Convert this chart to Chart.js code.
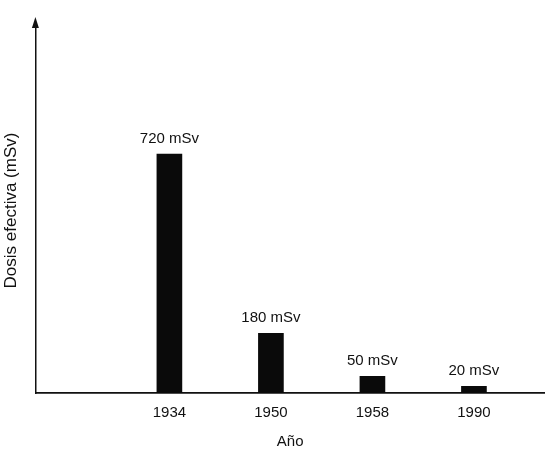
<!DOCTYPE html>
<html>
<head>
<meta charset="utf-8">
<script src="https://cdn.jsdelivr.net/npm/chart.js@4"></script>
<style>
  html, body { margin: 0; padding: 0; background: #fff; }
  #wrap { width: 545px; height: 452px; }
</style>
</head>
<body>
<div id="wrap"><canvas id="doseChart"></canvas></div>
<script>
const years = ['1934', '1950', '1958', '1990'];
const doses = [720, 180, 50, 20];
const unit = 'mSv';

const ink = '#111';
const font = 'Liberation Sans, Arial, Helvetica, sans-serif';

// labels "720 mSv" above each bar
const valueLabels = {
  id: 'valueLabels',
  afterDatasetsDraw(chart) {
    const { ctx } = chart;
    const meta = chart.getDatasetMeta(0);
    ctx.save();
    ctx.fillStyle = ink;
    ctx.font = `15px ${font}`;
    ctx.textAlign = 'center';
    ctx.textBaseline = 'alphabetic';
    meta.data.forEach((bar, i) => {
      ctx.fillText(`${doses[i]} ${unit}`, bar.x, bar.y - 11);
    });
    ctx.restore();
  }
};

// arrow head on top of the y axis
const axisArrow = {
  id: 'axisArrow',
  afterDraw(chart) {
    const { ctx, chartArea } = chart;
    const x = chartArea.left;
    const top = chartArea.top;
    ctx.save();
    ctx.strokeStyle = ink;
    ctx.fillStyle = ink;
    ctx.lineWidth = 1.5;
    ctx.beginPath();
    ctx.moveTo(x, top);
    ctx.lineTo(x, top - 4);
    ctx.stroke();
    ctx.beginPath();
    ctx.moveTo(x, top - 11);
    ctx.lineTo(x - 3.5, top);
    ctx.lineTo(x + 3.5, top);
    ctx.closePath();
    ctx.fill();
    ctx.restore();
  }
};

new Chart(document.getElementById('doseChart'), {
  type: 'bar',
  data: {
    datasets: [{
      data: doses.map((v, i) => ({ x: i, y: v })),
      backgroundColor: '#0a0a0a',
      barThickness: 25
    }]
  },
  options: {
    responsive: true,
    maintainAspectRatio: false,
    animation: false,
    layout: { padding: { top: 28, right: 0, left: 1, bottom: 1 } },
    plugins: {
      legend: { display: false },
      tooltip: { enabled: false }
    },
    scales: {
      x: {
        type: 'linear',
        offset: false,
        min: -1.32,
        max: 3.7,
        grid: { display: false },
        border: { display: true, color: ink, width: 1.8 },
        ticks: {
          stepSize: 1,
          includeBounds: false,
          color: ink,
          font: { family: font, size: 15 },
          padding: 3,
          callback: v => years[v] ?? ''
        },
        title: {
          display: true,
          text: 'Año',
          color: ink,
          font: { family: font, size: 15 },
          padding: { top: 8, bottom: 0 }
        }
      },
      y: {
        min: 0,
        max: 1100,
        grid: { display: false },
        border: { display: true, color: ink, width: 1.5 },
        ticks: { display: false },
        title: {
          display: true,
          text: 'Dosis efectiva (mSv)',
          color: ink,
          font: { family: font, size: 17 },
          padding: { top: 0, bottom: 6 }
        }
      }
    }
  },
  plugins: [valueLabels, axisArrow]
});
</script>
</body>
</html>
